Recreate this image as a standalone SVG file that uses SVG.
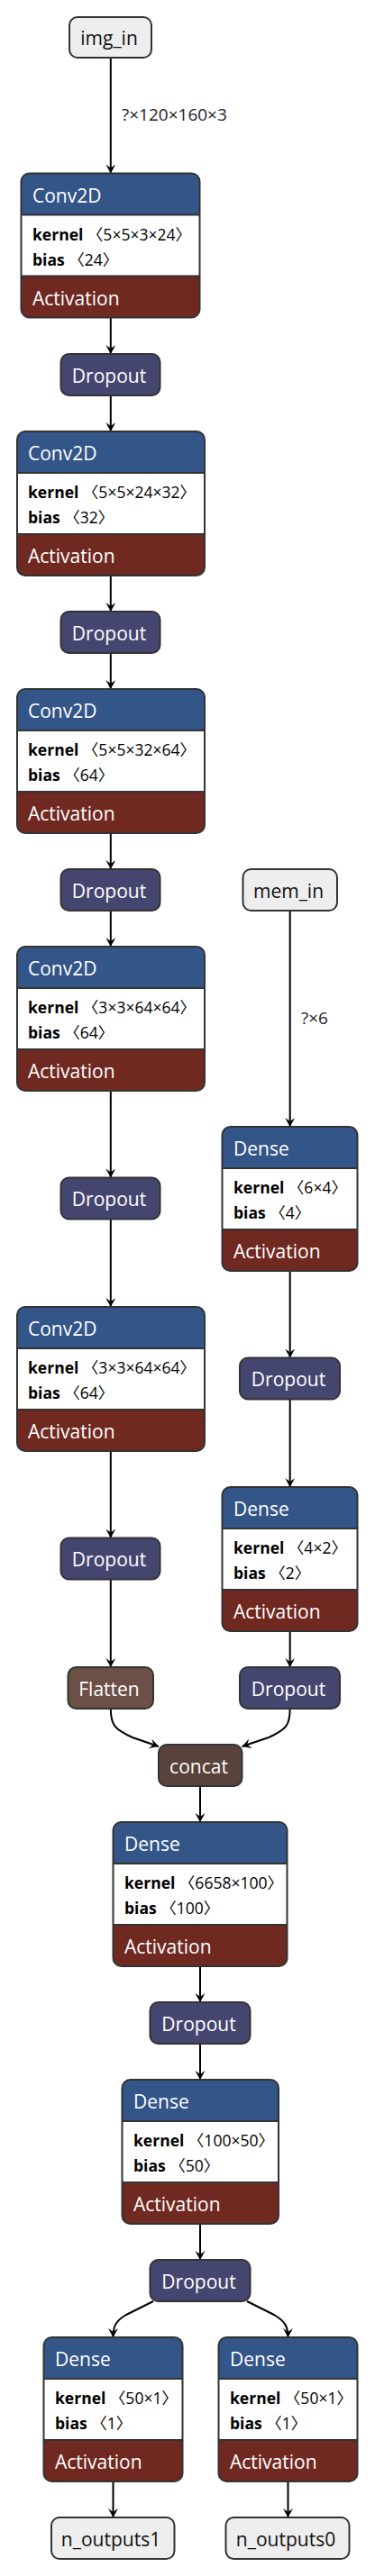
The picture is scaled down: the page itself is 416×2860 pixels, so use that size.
<svg xmlns="http://www.w3.org/2000/svg" width="416" height="2860" viewBox="0 0 416 2860">
<style>
.bg{fill:#fff}
.border{fill:none;stroke:#333;stroke-width:2}
.div{stroke:#333;stroke-width:2}
.hdr{fill:#335588}
.act{fill:#702921}
.drop{fill:#45466f}
.flat{fill:#6c4f47}
.tens{fill:#59423b}
.inp{fill:#eeeeee}
.attr{fill:#ffffff}
.t{font-family:"Open Sans","Noto Sans",sans-serif;font-size:21px;fill:#fff}
.ti{font-family:"Open Sans","Noto Sans",sans-serif;font-size:21px;fill:#111}
.a{font-family:"Open Sans","Noto Sans","Noto Sans CJK SC",sans-serif;font-size:17.5px;fill:#000}
.a .k{font-weight:bold}
.lbl{font-family:"Open Sans","Noto Sans",sans-serif;font-size:19px;fill:#222}
.e{fill:none;stroke:#000;stroke-width:2;marker-end:url(#arr)}
</style>
<defs>
<marker id="arr" viewBox="0 0 10 10" refX="10" refY="5" markerUnits="userSpaceOnUse" markerWidth="10" markerHeight="11" orient="auto" preserveAspectRatio="none">
<path d="M0,0 L10,5 L0,10 L4,5 z" fill="#000"/>
</marker>
</defs>

<g id="edges">
<path class="e" d="M122.8,64 V192.5"/>
<path class="e" d="M122.8,352.5 V393"/>
<path class="e" d="M122.8,439 V479"/>
<path class="e" d="M122.8,639 V679"/>
<path class="e" d="M122.8,725 V765"/>
<path class="e" d="M122.8,925 V965"/>
<path class="e" d="M122.8,1011 V1051"/>
<path class="e" d="M122.8,1211 V1307.5"/>
<path class="e" d="M122.8,1353.5 V1451"/>
<path class="e" d="M122.8,1611 V1707.5"/>
<path class="e" d="M122.8,1753.5 V1851"/>
<path class="e" d="M321.7,1011 V1251"/>
<path class="e" d="M321.7,1411 V1507.5"/>
<path class="e" d="M321.7,1553.5 V1651"/>
<path class="e" d="M321.7,1811 V1851"/>
<path class="e" d="M122.8,1897 C122.8,1915 127,1920 147,1929 L176,1939"/>
<path class="e" d="M321.7,1897 C321.7,1915 318,1920 298,1929 L268.5,1939"/>
<path class="e" d="M222,1983 V2023"/>
<path class="e" d="M222,2183 V2223"/>
<path class="e" d="M222,2269 V2309"/>
<path class="e" d="M222,2469 V2509"/>
<path class="e" d="M170,2555 L140,2570 C128,2577 125.5,2583 125.5,2595"/>
<path class="e" d="M274,2555 L304,2570 C316,2577 319.5,2583 319.5,2595"/>
<path class="e" d="M125.5,2755 V2795"/>
<path class="e" d="M319.5,2755 V2795"/>
<text class="lbl" x="135" y="134">?×120×160×3</text>
<text class="lbl" x="334" y="1137">?×6</text>
</g>

<g id="img_in">
<rect class="inp" x="77" y="19" width="91" height="45" rx="9"/>
<rect class="border" x="77" y="19" width="91" height="45" rx="9"/>
<text class="ti" x="121" y="50" text-anchor="middle">img_in</text>
</g>

<g id="conv2d_1">
<rect class="act" x="23.5" y="192.5" width="198" height="160" rx="9"/>
<rect class="hdr" x="23.5" y="192.5" width="198" height="60" rx="9"/>
<rect class="attr" x="23.5" y="238.5" width="198" height="68"/>
<line class="div" x1="23.5" y1="238.5" x2="221.5" y2="238.5"/>
<line class="div" x1="23.5" y1="306.5" x2="221.5" y2="306.5"/>
<rect class="border" x="23.5" y="192.5" width="198" height="160" rx="9"/>
<text class="t" x="36" y="225">Conv2D</text>
<text class="a" x="36" y="267"><tspan class="k">kernel</tspan> 〈5×5×3×24〉</text>
<text class="a" x="36" y="295"><tspan class="k">bias</tspan> 〈24〉</text>
<text class="t" x="36" y="339">Activation</text>
</g>

<g id="dropout_1">
<rect class="drop" x="67.5" y="393" width="110" height="46" rx="9"/>
<rect class="border" x="67.5" y="393" width="110" height="46" rx="9"/>
<text class="t" x="121" y="424.5" text-anchor="middle">Dropout</text>
</g>

<g id="conv2d_2">
<rect class="act" x="19" y="479" width="208" height="160" rx="9"/>
<rect class="hdr" x="19" y="479" width="208" height="60" rx="9"/>
<rect class="attr" x="19" y="525" width="208" height="68"/>
<line class="div" x1="19" y1="525" x2="227" y2="525"/>
<line class="div" x1="19" y1="593" x2="227" y2="593"/>
<rect class="border" x="19" y="479" width="208" height="160" rx="9"/>
<text class="t" x="31" y="511">Conv2D</text>
<text class="a" x="31" y="553"><tspan class="k">kernel</tspan> 〈5×5×24×32〉</text>
<text class="a" x="31" y="581"><tspan class="k">bias</tspan> 〈32〉</text>
<text class="t" x="31" y="625">Activation</text>
</g>

<g id="dropout_2">
<rect class="drop" x="67.5" y="679" width="110" height="46" rx="9"/>
<rect class="border" x="67.5" y="679" width="110" height="46" rx="9"/>
<text class="t" x="121" y="710.5" text-anchor="middle">Dropout</text>
</g>

<g id="conv2d_3">
<rect class="act" x="19" y="765" width="208" height="160" rx="9"/>
<rect class="hdr" x="19" y="765" width="208" height="60" rx="9"/>
<rect class="attr" x="19" y="811" width="208" height="68"/>
<line class="div" x1="19" y1="811" x2="227" y2="811"/>
<line class="div" x1="19" y1="879" x2="227" y2="879"/>
<rect class="border" x="19" y="765" width="208" height="160" rx="9"/>
<text class="t" x="31" y="797">Conv2D</text>
<text class="a" x="31" y="839"><tspan class="k">kernel</tspan> 〈5×5×32×64〉</text>
<text class="a" x="31" y="867"><tspan class="k">bias</tspan> 〈64〉</text>
<text class="t" x="31" y="911">Activation</text>
</g>

<g id="dropout_3">
<rect class="drop" x="67.5" y="965" width="110" height="46" rx="9"/>
<rect class="border" x="67.5" y="965" width="110" height="46" rx="9"/>
<text class="t" x="121" y="996.5" text-anchor="middle">Dropout</text>
</g>

<g id="mem_in">
<rect class="inp" x="269.5" y="965" width="104.5" height="46" rx="9"/>
<rect class="border" x="269.5" y="965" width="104.5" height="46" rx="9"/>
<text class="ti" x="320" y="996.5" text-anchor="middle">mem_in</text>
</g>

<g id="conv2d_4">
<rect class="act" x="19" y="1051" width="208" height="160" rx="9"/>
<rect class="hdr" x="19" y="1051" width="208" height="60" rx="9"/>
<rect class="attr" x="19" y="1097" width="208" height="68"/>
<line class="div" x1="19" y1="1097" x2="227" y2="1097"/>
<line class="div" x1="19" y1="1165" x2="227" y2="1165"/>
<rect class="border" x="19" y="1051" width="208" height="160" rx="9"/>
<text class="t" x="31" y="1083">Conv2D</text>
<text class="a" x="31" y="1125"><tspan class="k">kernel</tspan> 〈3×3×64×64〉</text>
<text class="a" x="31" y="1153"><tspan class="k">bias</tspan> 〈64〉</text>
<text class="t" x="31" y="1197">Activation</text>
</g>

<g id="dense_m1">
<rect class="act" x="246.5" y="1251" width="150" height="160" rx="9"/>
<rect class="hdr" x="246.5" y="1251" width="150" height="60" rx="9"/>
<rect class="attr" x="246.5" y="1297" width="150" height="68"/>
<line class="div" x1="246.5" y1="1297" x2="396.5" y2="1297"/>
<line class="div" x1="246.5" y1="1365" x2="396.5" y2="1365"/>
<rect class="border" x="246.5" y="1251" width="150" height="160" rx="9"/>
<text class="t" x="259" y="1283">Dense</text>
<text class="a" x="259" y="1325"><tspan class="k">kernel</tspan> 〈6×4〉</text>
<text class="a" x="259" y="1353"><tspan class="k">bias</tspan> 〈4〉</text>
<text class="t" x="259" y="1397">Activation</text>
</g>

<g id="dropout_4">
<rect class="drop" x="67.5" y="1307.5" width="110" height="46" rx="9"/>
<rect class="border" x="67.5" y="1307.5" width="110" height="46" rx="9"/>
<text class="t" x="121" y="1339" text-anchor="middle">Dropout</text>
</g>

<g id="conv2d_5">
<rect class="act" x="19" y="1451" width="208" height="160" rx="9"/>
<rect class="hdr" x="19" y="1451" width="208" height="60" rx="9"/>
<rect class="attr" x="19" y="1497" width="208" height="68"/>
<line class="div" x1="19" y1="1497" x2="227" y2="1497"/>
<line class="div" x1="19" y1="1565" x2="227" y2="1565"/>
<rect class="border" x="19" y="1451" width="208" height="160" rx="9"/>
<text class="t" x="31" y="1483">Conv2D</text>
<text class="a" x="31" y="1525"><tspan class="k">kernel</tspan> 〈3×3×64×64〉</text>
<text class="a" x="31" y="1553"><tspan class="k">bias</tspan> 〈64〉</text>
<text class="t" x="31" y="1597">Activation</text>
</g>

<g id="dropout_m1">
<rect class="drop" x="266" y="1507.5" width="111" height="46" rx="9"/>
<rect class="border" x="266" y="1507.5" width="111" height="46" rx="9"/>
<text class="t" x="320" y="1539" text-anchor="middle">Dropout</text>
</g>

<g id="dense_m2">
<rect class="act" x="246.5" y="1651" width="150" height="160" rx="9"/>
<rect class="hdr" x="246.5" y="1651" width="150" height="60" rx="9"/>
<rect class="attr" x="246.5" y="1697" width="150" height="68"/>
<line class="div" x1="246.5" y1="1697" x2="396.5" y2="1697"/>
<line class="div" x1="246.5" y1="1765" x2="396.5" y2="1765"/>
<rect class="border" x="246.5" y="1651" width="150" height="160" rx="9"/>
<text class="t" x="259" y="1683">Dense</text>
<text class="a" x="259" y="1725"><tspan class="k">kernel</tspan> 〈4×2〉</text>
<text class="a" x="259" y="1753"><tspan class="k">bias</tspan> 〈2〉</text>
<text class="t" x="259" y="1797">Activation</text>
</g>

<g id="dropout_5">
<rect class="drop" x="67.5" y="1707.5" width="110" height="46" rx="9"/>
<rect class="border" x="67.5" y="1707.5" width="110" height="46" rx="9"/>
<text class="t" x="121" y="1739" text-anchor="middle">Dropout</text>
</g>

<g id="flatten">
<rect class="flat" x="75.5" y="1851" width="94.5" height="46" rx="9"/>
<rect class="border" x="75.5" y="1851" width="94.5" height="46" rx="9"/>
<text class="t" x="121" y="1882.5" text-anchor="middle">Flatten</text>
</g>

<g id="dropout_m2">
<rect class="drop" x="266" y="1851" width="111" height="46" rx="9"/>
<rect class="border" x="266" y="1851" width="111" height="46" rx="9"/>
<text class="t" x="320" y="1882.5" text-anchor="middle">Dropout</text>
</g>

<g id="concat">
<rect class="tens" x="176" y="1937" width="92.5" height="46" rx="9"/>
<rect class="border" x="176" y="1937" width="92.5" height="46" rx="9"/>
<text class="t" x="220.5" y="1968.5" text-anchor="middle">concat</text>
</g>

<g id="dense_1">
<rect class="act" x="125.5" y="2023" width="193" height="160" rx="9"/>
<rect class="hdr" x="125.5" y="2023" width="193" height="60" rx="9"/>
<rect class="attr" x="125.5" y="2069" width="193" height="68"/>
<line class="div" x1="125.5" y1="2069" x2="318.5" y2="2069"/>
<line class="div" x1="125.5" y1="2137" x2="318.5" y2="2137"/>
<rect class="border" x="125.5" y="2023" width="193" height="160" rx="9"/>
<text class="t" x="138" y="2055">Dense</text>
<text class="a" x="138" y="2097"><tspan class="k">kernel</tspan> 〈6658×100〉</text>
<text class="a" x="138" y="2125"><tspan class="k">bias</tspan> 〈100〉</text>
<text class="t" x="138" y="2169">Activation</text>
</g>

<g id="dropout_6">
<rect class="drop" x="166.5" y="2223" width="111" height="46" rx="9"/>
<rect class="border" x="166.5" y="2223" width="111" height="46" rx="9"/>
<text class="t" x="220.5" y="2254.5" text-anchor="middle">Dropout</text>
</g>

<g id="dense_2">
<rect class="act" x="135.5" y="2309" width="173.5" height="160" rx="9"/>
<rect class="hdr" x="135.5" y="2309" width="173.5" height="60" rx="9"/>
<rect class="attr" x="135.5" y="2355" width="173.5" height="68"/>
<line class="div" x1="135.5" y1="2355" x2="309" y2="2355"/>
<line class="div" x1="135.5" y1="2423" x2="309" y2="2423"/>
<rect class="border" x="135.5" y="2309" width="173.5" height="160" rx="9"/>
<text class="t" x="148" y="2341">Dense</text>
<text class="a" x="148" y="2383"><tspan class="k">kernel</tspan> 〈100×50〉</text>
<text class="a" x="148" y="2411"><tspan class="k">bias</tspan> 〈50〉</text>
<text class="t" x="148" y="2455">Activation</text>
</g>

<g id="dropout_7">
<rect class="drop" x="166.5" y="2509" width="111" height="46" rx="9"/>
<rect class="border" x="166.5" y="2509" width="111" height="46" rx="9"/>
<text class="t" x="220.5" y="2540.5" text-anchor="middle">Dropout</text>
</g>

<g id="dense_left">
<rect class="act" x="48.5" y="2595" width="154" height="160" rx="9"/>
<rect class="hdr" x="48.5" y="2595" width="154" height="60" rx="9"/>
<rect class="attr" x="48.5" y="2641" width="154" height="68"/>
<line class="div" x1="48.5" y1="2641" x2="202.5" y2="2641"/>
<line class="div" x1="48.5" y1="2709" x2="202.5" y2="2709"/>
<rect class="border" x="48.5" y="2595" width="154" height="160" rx="9"/>
<text class="t" x="61" y="2627">Dense</text>
<text class="a" x="61" y="2669"><tspan class="k">kernel</tspan> 〈50×1〉</text>
<text class="a" x="61" y="2697"><tspan class="k">bias</tspan> 〈1〉</text>
<text class="t" x="61" y="2741">Activation</text>
</g>

<g id="dense_right">
<rect class="act" x="242.5" y="2595" width="154" height="160" rx="9"/>
<rect class="hdr" x="242.5" y="2595" width="154" height="60" rx="9"/>
<rect class="attr" x="242.5" y="2641" width="154" height="68"/>
<line class="div" x1="242.5" y1="2641" x2="396.5" y2="2641"/>
<line class="div" x1="242.5" y1="2709" x2="396.5" y2="2709"/>
<rect class="border" x="242.5" y="2595" width="154" height="160" rx="9"/>
<text class="t" x="255" y="2627">Dense</text>
<text class="a" x="255" y="2669"><tspan class="k">kernel</tspan> 〈50×1〉</text>
<text class="a" x="255" y="2697"><tspan class="k">bias</tspan> 〈1〉</text>
<text class="t" x="255" y="2741">Activation</text>
</g>

<g id="n_outputs1">
<rect class="inp" x="57" y="2795" width="136.5" height="46" rx="9"/>
<rect class="border" x="57" y="2795" width="136.5" height="46" rx="9"/>
<text class="ti" x="123" y="2826.5" text-anchor="middle">n_outputs1</text>
</g>

<g id="n_outputs0">
<rect class="inp" x="250.5" y="2795" width="137" height="46" rx="9"/>
<rect class="border" x="250.5" y="2795" width="137" height="46" rx="9"/>
<text class="ti" x="317" y="2826.5" text-anchor="middle">n_outputs0</text>
</g>
</svg>
